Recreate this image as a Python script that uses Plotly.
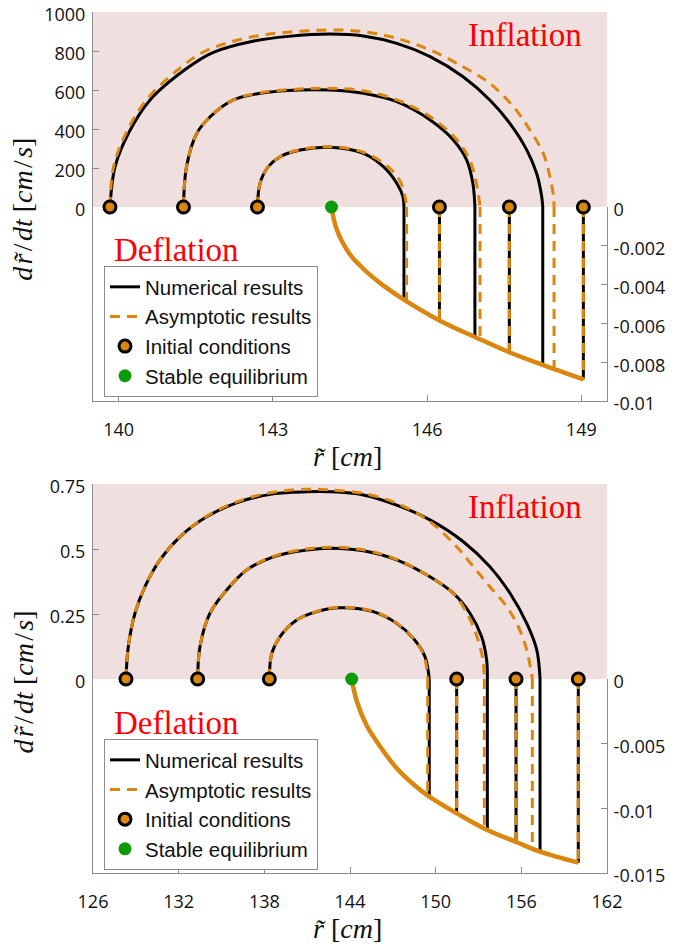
import plotly.graph_objects as go

# ---------------- Panel (a) data ----------------
A_X_TICKS = [140, 143, 146, 149]
A_YUP_TICKS = [0, 200, 400, 600, 800, 1000]
A_YDN_TICKS = [0, -0.002, -0.004, -0.006, -0.008, -0.01]
A_YDN_TEXT = ["0", "-0.002", "-0.004", "-0.006", "-0.008", "-0.01"]

A_IC_R = [139.83, 141.26, 142.70, 146.24, 147.60, 149.04]
A_IC_DROP_V = [-0.00586, -0.0075, -0.00888]   # drops of the three right-hand initial conditions
A_EQ_R = [144.14]

A_NUM_OUT_R = [139.83, 139.93, 140.19, 140.61, 141.32, 141.83, 142.61, 143.30, 144.11, 144.76, 145.41, 146.06, 146.70, 147.22, 147.61, 147.94, 148.13, 148.23, 148.25]
A_NUM_OUT_V = [0, 207, 378, 549, 710, 792, 850, 875, 887, 877, 839, 771, 668, 549, 429, 292, 173, 53, 0]
A_ASY_OUT_R = [139.83, 139.90, 140.14, 140.54, 141.19, 141.65, 142.23, 142.88, 144.11, 144.76, 145.41, 146.06, 146.70, 147.22, 147.68, 148.00, 148.26, 148.39, 148.46, 148.47]
A_ASY_OUT_V = [0, 207, 378, 549, 712, 795, 850, 885, 908, 899, 865, 805, 719, 634, 514, 395, 275, 155, 53, 0]

A_NUM_MID_R = [141.26, 141.32, 141.52, 141.78, 142.23, 142.75, 143.53, 144.11, 144.76, 145.41, 146.06, 146.51, 146.77, 146.89, 146.93]
A_NUM_MID_V = [0, 207, 378, 463, 549, 583, 600, 600, 583, 540, 446, 344, 241, 122, 0]
A_ASY_MID_R = [141.26, 141.32, 141.52, 141.78, 142.23, 142.75, 143.53, 144.11, 144.76, 145.41, 146.06, 146.58, 146.83, 146.96, 147.03]
A_ASY_MID_V = [0, 207, 378, 463, 549, 586, 605, 609, 596, 549, 463, 344, 241, 122, 0]

A_NUM_IN_R = [142.70, 142.75, 142.91, 143.14, 143.53, 144.11, 144.76, 145.15, 145.41, 145.53, 145.55]
A_NUM_IN_V = [0, 122, 207, 258, 292, 306, 275, 207, 122, 53, 0]
A_ASY_IN_R = [142.70, 142.75, 142.91, 143.14, 143.53, 144.11, 144.76, 145.24, 145.48, 145.57, 145.60]
A_ASY_IN_V = [0, 122, 207, 258, 294, 309, 281, 207, 130, 53, 0]

A_NUM_DROP_R = [145.55, 146.93, 148.25]
A_NUM_DROP_V = [-0.00476, -0.0067, -0.00815]
A_ASY_DROP_R = [145.60, 147.03, 148.47]
A_ASY_DROP_V = [-0.00484, -0.00682, -0.00834]

A_ENV_R = [144.14, 144.24, 144.50, 144.69, 144.89, 145.15, 145.54, 146.25, 146.93, 147.61, 148.26, 149.04]
A_ENV_V = [0, -0.00115, -0.00245, -0.00300, -0.00350, -0.00405, -0.00476, -0.00586, -0.00670, -0.00750, -0.00815, -0.00888]

# ---------------- Panel (b) data ----------------
B_X_TICKS = [126, 132, 138, 144, 150, 156, 162]
B_YUP_TICKS = [0, 0.25, 0.5, 0.75]
B_YUP_TEXT = ["0", "0.25", "0.5", "0.75"]
B_YDN_TICKS = [0, -0.005, -0.01, -0.015]
B_YDN_TEXT = ["0", "-0.005", "-0.01", "-0.015"]

B_IC_R = [128.31, 133.33, 138.35, 151.47, 155.63, 159.99]
B_IC_DROP_V = [-0.01039, -0.0126, -0.0142]
B_EQ_R = [144.12]

B_NUM_OUT_R = [128.31, 128.47, 128.94, 129.64, 130.69, 132.09, 133.96, 136.30, 138.63, 140.97, 142.60, 144.93, 147.27, 149.60, 151.94, 153.80, 155.21, 156.38, 157.08, 157.31]
B_NUM_OUT_V = [0, 0.124, 0.253, 0.355, 0.458, 0.547, 0.624, 0.682, 0.712, 0.720, 0.720, 0.708, 0.669, 0.612, 0.528, 0.432, 0.330, 0.214, 0.112, 0]
B_ASY_OUT_R = [128.31, 128.47, 128.94, 129.64, 130.69, 132.09, 133.96, 136.30, 138.63, 140.97, 142.60, 144.93, 147.27, 149.60, 151.47, 152.64, 153.80, 154.98, 155.79, 156.38, 156.77]
B_ASY_OUT_V = [0, 0.124, 0.253, 0.355, 0.458, 0.547, 0.626, 0.686, 0.718, 0.730, 0.727, 0.714, 0.676, 0.605, 0.509, 0.432, 0.355, 0.278, 0.201, 0.112, 0]

B_NUM_MID_R = [133.33, 133.49, 134.19, 135.36, 136.76, 138.63, 140.97, 142.60, 144.93, 147.27, 149.60, 151.23, 152.40, 153.22, 153.57, 153.62]
B_NUM_MID_V = [0, 0.124, 0.253, 0.342, 0.419, 0.470, 0.496, 0.503, 0.493, 0.458, 0.393, 0.330, 0.253, 0.163, 0.073, 0]
B_ASY_MID_R = [133.33, 133.49, 134.19, 135.36, 136.76, 138.63, 140.97, 142.60, 144.93, 147.27, 149.60, 151.23, 152.26, 152.97, 153.31, 153.41]
B_ASY_MID_V = [0, 0.124, 0.253, 0.342, 0.419, 0.472, 0.500, 0.507, 0.497, 0.460, 0.393, 0.330, 0.246, 0.150, 0.073, 0]

B_NUM_IN_R = [138.35, 138.52, 139.10, 140.27, 141.67, 143.30, 145.63, 147.27, 148.43, 149.25, 149.55]
B_NUM_IN_V = [0, 0.099, 0.163, 0.227, 0.259, 0.274, 0.259, 0.214, 0.157, 0.086, 0]
B_ASY_IN_R = [138.35, 138.52, 139.10, 140.27, 141.67, 143.30, 145.63, 147.27, 148.43, 149.20, 149.44]
B_ASY_IN_V = [0, 0.099, 0.163, 0.227, 0.260, 0.276, 0.261, 0.215, 0.157, 0.086, 0]

B_NUM_DROP_R = [149.55, 153.62, 157.31]
B_NUM_DROP_V = [-0.0091, -0.01168, -0.01335]
B_ASY_DROP_R = [149.44, 153.41, 156.77]
B_ASY_DROP_V = [-0.00905, -0.01157, -0.0131]

B_ENV_R = [144.12, 144.47, 145.17, 146.10, 147.27, 148.40, 149.55, 151.58, 153.57, 155.68, 157.31, 159.99]
B_ENV_V = [0, -0.0017, -0.0036, -0.0052, -0.0069, -0.0081, -0.0091, -0.01045, -0.01165, -0.01262, -0.01335, -0.0142]

# ---------------- styles ----------------
BLACK = "#000000"
ORANGE = "#DA860F"
GREEN = "#0A9A0A"
PINK = "#EFDFDF"
AXIS_GRAY = "#8C8C8C"
DASH = "10px,7px"
TICK_FONT = dict(family="Open Sans, Liberation Sans, sans-serif", size=18, color="#111")
SERIF = "Liberation Serif, Times New Roman, serif"

fig = go.Figure()


def verticals(xs, ys):
    vx, vy = [], []
    for x, y in zip(xs, ys):
        vx += [x, x, None]
        vy += [0, y, None]
    return vx, vy


def add_panel(xa, ya_up, ya_dn, legend, arcs_num, arcs_asy, num_drop, asy_drop,
              ic_r, ic_drop, eq_r, env_r, env_v):
    for i, (r, v) in enumerate(arcs_num):
        fig.add_trace(go.Scatter(x=r, y=v, xaxis=xa, yaxis=ya_up, mode="lines",
                                 line=dict(color=BLACK, width=3, shape="spline"),
                                 name="Numerical results", legend=legend,
                                 showlegend=(i == 0), hoverinfo="skip"))
    for i, (r, v) in enumerate(arcs_asy):
        fig.add_trace(go.Scatter(x=r, y=v, xaxis=xa, yaxis=ya_up, mode="lines",
                                 line=dict(color=ORANGE, width=3, dash=DASH, shape="spline"),
                                 name="Asymptotic results", legend=legend,
                                 showlegend=(i == 0), hoverinfo="skip"))
    nx, ny = verticals(num_drop[0] + ic_r[3:], num_drop[1] + ic_drop)
    fig.add_trace(go.Scatter(x=nx, y=ny, xaxis=xa, yaxis=ya_dn, mode="lines",
                             line=dict(color=BLACK, width=3), showlegend=False,
                             hoverinfo="skip"))
    fig.add_trace(go.Scatter(x=env_r, y=env_v, xaxis=xa, yaxis=ya_dn, mode="lines",
                             line=dict(color=BLACK, width=3, shape="spline"),
                             showlegend=False, hoverinfo="skip"))
    ax_, ay_ = verticals(asy_drop[0] + ic_r[3:], asy_drop[1] + ic_drop)
    fig.add_trace(go.Scatter(x=ax_, y=ay_, xaxis=xa, yaxis=ya_dn, mode="lines",
                             line=dict(color=ORANGE, width=3, dash=DASH), showlegend=False,
                             hoverinfo="skip"))
    fig.add_trace(go.Scatter(x=env_r, y=env_v, xaxis=xa, yaxis=ya_dn, mode="lines",
                             line=dict(color=ORANGE, width=4.5, shape="spline"),
                             showlegend=False, hoverinfo="skip"))
    fig.add_trace(go.Scatter(x=ic_r, y=[0] * len(ic_r), xaxis=xa, yaxis=ya_dn, mode="markers",
                             marker=dict(size=12, color=ORANGE, line=dict(color=BLACK, width=3)),
                             name="Initial conditions", legend=legend, cliponaxis=False,
                             hoverinfo="skip"))
    fig.add_trace(go.Scatter(x=eq_r, y=[0] * len(eq_r), xaxis=xa, yaxis=ya_dn, mode="markers",
                             marker=dict(size=13, color=GREEN),
                             name="Stable equilibrium", legend=legend, cliponaxis=False,
                             hoverinfo="skip"))


add_panel("x", "y", "y2", "legend",
          [(A_NUM_OUT_R, A_NUM_OUT_V), (A_NUM_MID_R, A_NUM_MID_V), (A_NUM_IN_R, A_NUM_IN_V)],
          [(A_ASY_OUT_R, A_ASY_OUT_V), (A_ASY_MID_R, A_ASY_MID_V), (A_ASY_IN_R, A_ASY_IN_V)],
          (A_NUM_DROP_R, A_NUM_DROP_V), (A_ASY_DROP_R, A_ASY_DROP_V),
          A_IC_R, A_IC_DROP_V, A_EQ_R, A_ENV_R, A_ENV_V)

add_panel("x2", "y3", "y4", "legend2",
          [(B_NUM_OUT_R, B_NUM_OUT_V), (B_NUM_MID_R, B_NUM_MID_V), (B_NUM_IN_R, B_NUM_IN_V)],
          [(B_ASY_OUT_R, B_ASY_OUT_V), (B_ASY_MID_R, B_ASY_MID_V), (B_ASY_IN_R, B_ASY_IN_V)],
          (B_NUM_DROP_R, B_NUM_DROP_V), (B_ASY_DROP_R, B_ASY_DROP_V),
          B_IC_R, B_IC_DROP_V, B_EQ_R, B_ENV_R, B_ENV_V)

# plot area 514 x 861 px at (93, 12) in a 673 x 945 page
D_A_TOP = [0.7735, 1.0]
D_A_BOT = [0.5482, 0.7735]
D_B_TOP = [0.2253, 0.4518]
D_B_BOT = [0.0, 0.2253]

common_x = dict(ticks="inside", ticklen=6, tickcolor=AXIS_GRAY, showline=True,
                linecolor=AXIS_GRAY, linewidth=1, showgrid=False, zeroline=False,
                tickfont=TICK_FONT, ticklabelstandoff=12, automargin=False,
                ticklabeloverflow="allow")
common_y = dict(ticks="inside", ticklen=6, tickcolor=AXIS_GRAY, showgrid=False,
                zeroline=False, tickfont=TICK_FONT, linecolor=AXIS_GRAY,
                linewidth=1, automargin=False, ticklabelshift=3, ticklabeloverflow="allow")

legend_style = dict(xanchor="left", yanchor="top", bgcolor="white", bordercolor=AXIS_GRAY,
                    borderwidth=1, font=dict(family="Liberation Sans, Arial, sans-serif",
                                             size=20.5, color="#111"),
                    tracegroupgap=0, itemwidth=30, traceorder="normal")

fig.update_layout(
    width=673, height=945, autosize=False,
    margin=dict(l=93, r=66, t=12, b=72, autoexpand=False),
    paper_bgcolor="white", plot_bgcolor="white",
    showlegend=True,
    xaxis=dict(domain=[0, 1], anchor="y2", range=[139.5, 149.5], tickvals=A_X_TICKS, **common_x),
    yaxis=dict(domain=D_A_TOP, anchor="x", range=[0, 1000], tickvals=A_YUP_TICKS,
               side="left", showline=True, ticklabelstandoff=3, **common_y),
    yaxis2=dict(domain=D_A_BOT, anchor="x", range=[-0.01, 0], tickvals=A_YDN_TICKS,
                ticktext=A_YDN_TEXT, side="right", showline=True, mirror=True,
                ticklabelstandoff=2, **common_y),
    xaxis2=dict(domain=[0, 1], anchor="y4", range=[126, 162], tickvals=B_X_TICKS, **common_x),
    yaxis3=dict(domain=D_B_TOP, anchor="x2", range=[0, 0.75], tickvals=B_YUP_TICKS,
                ticktext=B_YUP_TEXT, side="left", showline=True, ticklabelstandoff=3,
                **common_y),
    yaxis4=dict(domain=D_B_BOT, anchor="x2", range=[-0.015, 0], tickvals=B_YDN_TICKS,
                ticktext=B_YDN_TEXT, side="right", showline=True, mirror=True,
                ticklabelstandoff=2, **common_y),
    legend=dict(x=0.0214, y=0.705, **legend_style),
    legend2=dict(x=0.0214, y=0.1556, **legend_style),
)

for xref, yref in (("x domain", "y domain"), ("x2 domain", "y3 domain")):
    fig.add_shape(type="rect", xref=xref, yref=yref, x0=0, x1=1, y0=0, y1=1,
                  fillcolor=PINK, line=dict(width=0), layer="below")

red_font = dict(family=SERIF, size=33, color="#FF0000")
label_font = dict(family=SERIF, size=28, color="#111")
XTITLE = "<i>r\u0303</i> [<i>cm</i>]"
YTITLE = "<i>d</i>\u200a<i>r\u0303</i>\u200a/\u200a<i>dt</i> [<i>cm</i>\u200a/\u200a<i>s</i>]"
annots = [
    dict(text="Inflation", x=0.8405, y=0.9733, font=red_font),
    dict(text="Deflation", x=0.163, y=0.7236, font=red_font),
    dict(text="Inflation", x=0.8405, y=0.425, font=red_font),
    dict(text="Deflation", x=0.163, y=0.174, font=red_font),
    dict(text=XTITLE, x=0.496, y=0.4843, font=label_font),
    dict(text=XTITLE, x=0.496, y=-0.0639, font=label_font),
    dict(text=YTITLE, x=-0.137, y=0.771, font=label_font, textangle=-90),
    dict(text=YTITLE, x=-0.137, y=0.2218, font=label_font, textangle=-90),
]
for a in annots:
    fig.add_annotation(xref="paper", yref="paper", showarrow=False,
                       xanchor="center", yanchor="middle", **a)

# remove the browser's default 8 px body margin so the 673 x 945 figure fills the window
fig.write_html("out.html", config={"displayModeBar": False},
               post_script="document.body.style.margin='0px';")
